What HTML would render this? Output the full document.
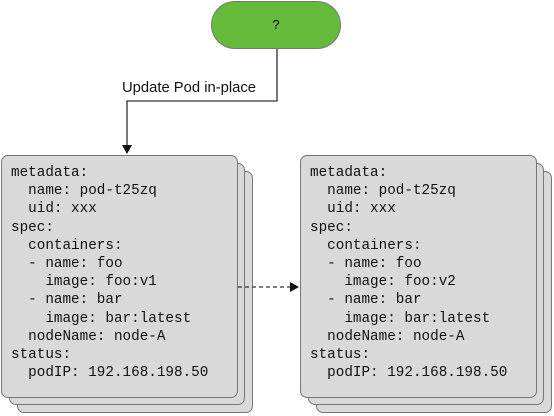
<!DOCTYPE html>
<html><head><style>
body{margin:0;width:554px;height:416px;background:#fff;position:relative;overflow:hidden;font-family:"Liberation Sans",sans-serif}
.c{position:absolute;width:236px;height:242px;background:#d9d9d9;border:1px solid #777;border-radius:7px;box-sizing:border-box}
pre{position:absolute;margin:0;font-family:"Liberation Mono",monospace;font-size:14.3px;line-height:18.2px;color:#111}
</style></head><body>
<div class="c" style="left:17px;top:171px"></div>
<div class="c" style="left:9px;top:163px"></div>
<div class="c" style="left:1px;top:155px;width:237px;height:243px"></div>
<div class="c" style="left:316px;top:171px"></div>
<div class="c" style="left:308px;top:163px"></div>
<div class="c" style="left:300px;top:155px;width:237px;height:243px"></div>
<pre style="left:11px;top:164px">metadata:
  name: pod-t25zq
  uid: xxx
spec:
  containers:
  - name: foo
    image: foo:v1
  - name: bar
    image: bar:latest
  nodeName: node-A
status:
  podIP: 192.168.198.50</pre>
<pre style="left:310px;top:164px">metadata:
  name: pod-t25zq
  uid: xxx
spec:
  containers:
  - name: foo
    image: foo:v2
  - name: bar
    image: bar:latest
  nodeName: node-A
status:
  podIP: 192.168.198.50</pre>
<div style="position:absolute;left:211px;top:1px;width:130px;height:48px;box-sizing:border-box;background:#67bb3a;border:1px solid #777;border-radius:24px;text-align:center;line-height:46px;font-size:13px">?</div>
<svg width="554" height="416" style="position:absolute;left:0;top:0">
<polyline points="277,49 277,101 127,101 127,146" fill="none" stroke="#333" stroke-width="1.3"/>
<polygon points="122,145 132,145 127,154" fill="#111"/>
<line x1="238" y1="287" x2="291" y2="287" stroke="#333" stroke-width="1.3" stroke-dasharray="4,3"/>
<polygon points="290,282 299,287 290,292" fill="#111"/>
<rect x="112" y="77" width="154" height="19" fill="#fff"/>
<text x="189" y="92" text-anchor="middle" font-family="Liberation Sans, sans-serif" font-size="14.8" fill="#111">Update Pod in-place</text>
</svg>
</body></html>
